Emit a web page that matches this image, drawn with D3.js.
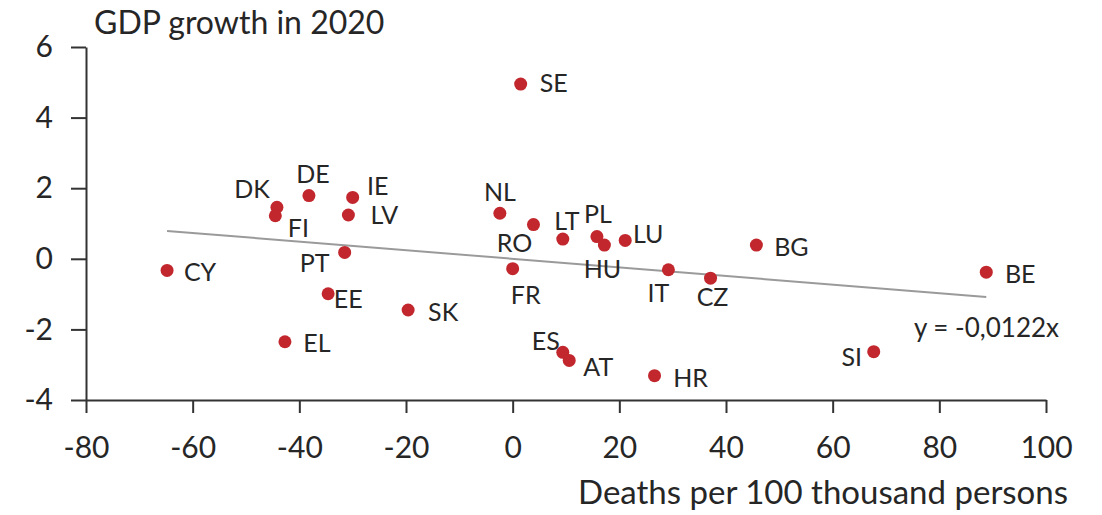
<!DOCTYPE html>
<html>
<head>
<meta charset="utf-8">
<script src="https://cdn.jsdelivr.net/npm/d3@7"></script>
<style>
  body { margin: 0; background: #fff; }
  text { font-family: Lato, "Open Sans", sans-serif; fill: #262626; }
</style>
</head>
<body>
<div id="chart"></div>
<script>
// data
const countries = ["SE","DK","FI","DE","IE","LV","NL","RO","LT","PL","HU","LU","BG",
                   "CY","PT","EE","SK","EL","FR","IT","CZ","ES","AT","HR","SI","BE"];
const deaths = [1.5,-44.2,-44.5,-38.2,-30.0,-30.8,-2.4,3.9,9.4,15.8,17.2,21.1,45.7,
                -64.8,-31.5,-34.6,-19.6,-42.7,0.0,29.2,37.1,9.4,10.6,26.6,67.7,88.8];
const gdp = [4.95,1.46,1.22,1.79,1.74,1.24,1.29,0.97,0.56,0.63,0.39,0.52,0.39,
             -0.33,0.18,-0.99,-1.45,-2.35,-0.28,-0.31,-0.55,-2.65,-2.88,-3.31,-2.63,-0.38];
const xTicks = [-80,-60,-40,-20,0,20,40,60,80,100];
const yTicks = [-4,-2,0,2,4,6];
const slope = -0.0122;

// where each label sits relative to its dot
const labelOffset = {
  SE:[33,-2], DK:[-25,-19], FI:[23,11], DE:[4,-23], IE:[25,-12], LV:[36,-1],
  NL:[0,-22], RO:[-19,17], LT:[4,-19], PL:[1,-24], HU:[-2,23], LU:[23,-7],
  BG:[35,1], CY:[33,1], PT:[-30,10], EE:[20,4], SK:[35,1], EL:[32,0],
  FR:[13,25], IT:[-10,22], CZ:[2,18], ES:[-17,-12], AT:[29,6], HR:[36,1],
  SI:[-22,4], BE:[34,1]
};

const data = countries.map((c, i) => ({code: c, x: deaths[i], y: gdp[i]}));

const W = 1102, H = 515;
const svg = d3.select("#chart").append("svg")
    .attr("width", W).attr("height", H);

const x = d3.scaleLinear().domain([-80, 100]).range([86, 1046]);
const y = d3.scaleLinear().domain([-4, 6]).range([400, 47]);

// axes (plain hyphen for negatives, like the original)
const fmt = d => d.toString();
const xAxis = svg.append("g")
    .attr("transform", `translate(0,${y(-4)})`)
    .call(d3.axisBottom(x).tickValues(xTicks).tickFormat(fmt)
        .tickSize(13).tickSizeOuter(0).tickPadding(24));
const yAxis = svg.append("g")
    .attr("transform", `translate(${x(-80)},0)`)
    .call(d3.axisLeft(y).tickValues(yTicks).tickFormat(fmt)
        .tickSize(15).tickSizeOuter(0).tickPadding(18));

[xAxis, yAxis].forEach(a => {
  a.select(".domain").attr("stroke", "#333").attr("stroke-width", 2);
  a.selectAll(".tick line").attr("stroke", "#333").attr("stroke-width", 2);
  a.selectAll(".tick text")
      .style("font-family", "Lato, 'Open Sans', sans-serif")
      .style("font-size", "30px").attr("fill", "#262626");
});

// trend line y = -0.0122x across the data range
const xr = d3.extent(deaths);
svg.append("line")
    .attr("x1", x(xr[0])).attr("y1", y(slope * xr[0]))
    .attr("x2", x(xr[1])).attr("y2", y(slope * xr[1]))
    .attr("stroke", "#9a9a9a").attr("stroke-width", 2);

// dots
svg.selectAll("circle.pt")
    .data(data)
    .join("circle")
    .attr("class", "pt")
    .attr("cx", d => x(d.x))
    .attr("cy", d => y(d.y))
    .attr("r", 6.5)
    .attr("fill", "#c1272d");

// country labels
svg.selectAll("text.lbl")
    .data(data)
    .join("text")
    .attr("class", "lbl")
    .attr("x", d => x(d.x) + labelOffset[d.code][0])
    .attr("y", d => y(d.y) + labelOffset[d.code][1])
    .attr("text-anchor", "middle")
    .attr("dominant-baseline", "central")
    .style("font-size", "25px")
    .text(d => d.code);

// titles
svg.append("text")
    .attr("x", 94).attr("y", 34)
    .style("font-size", "32px")
    .text("GDP growth in 2020");

svg.append("text")
    .attr("x", 1068).attr("y", 504)
    .attr("text-anchor", "end")
    .style("font-size", "33px")
    .text("Deaths per 100 thousand persons");

svg.append("text")
    .attr("x", 1059).attr("y", 337)
    .attr("text-anchor", "end")
    .style("font-size", "26px")
    .text("y = -0,0122x");
</script>
</body>
</html>
